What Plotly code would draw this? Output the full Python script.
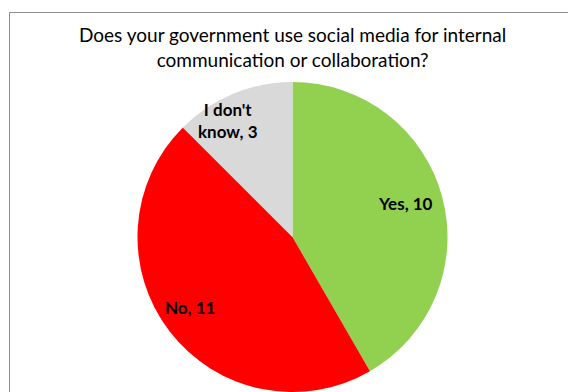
import math
import plotly.graph_objects as go

# Survey answers
labels = ["Yes", "No", "I don't know"]
values = [10, 11, 3]
label_text = ["Yes, 10", "No, 11", "I don't<br>know, 3"]
colors = ["#92D050", "#FF0000", "#D9D9D9"]

W, H = 568, 392
cx, cy, r = 292.5, 237.0, 155.0      # pie centre/radius in pixels (from top-left)
label_frac = [0.76, 0.80, 0.86]       # radial position of each label
label_shift = [-1.5, 3.0, -6.5]       # angular nudge of each label, degrees

fig = go.Figure(go.Pie(
    labels=labels,
    values=values,
    marker=dict(colors=colors, line=dict(width=0)),
    sort=False,
    direction="clockwise",
    rotation=0,
    textinfo="none",
    hoverinfo="label+value",
    showlegend=False,
    domain=dict(x=[(cx - r) / W, (cx + r) / W], y=[(H - cy - r) / H, (H - cy + r) / H]),
))

# Data labels placed along each slice's bisector
total = sum(values)
start = 0.0
annotations = []
for v, t, f, s in zip(values, label_text, label_frac, label_shift):
    mid = (start + v / 2) / total * 2 * math.pi + math.radians(s)
    start += v
    px = cx + f * r * math.sin(mid)
    py = cy - f * r * math.cos(mid)
    annotations.append(dict(
        x=px / W, y=1 - py / H, xref="paper", yref="paper",
        text="<b>" + t + "</b>", showarrow=False,
        font=dict(family="Lato", size=17, color="#000000"),
        xanchor="center", yanchor="middle", align="center",
    ))

annotations.append(dict(
    x=292.5 / W, y=1 - 47 / H, xref="paper", yref="paper",
    text="Does your government use social media for internal<br>communication or collaboration?",
    showarrow=False, xanchor="center", yanchor="middle", align="center",
    font=dict(family="Lato", size=19, color="#000000"),
))

fig.update_layout(
    width=W, height=H,
    margin=dict(l=0, r=0, t=0, b=0),
    paper_bgcolor="#FFFFFF",
    plot_bgcolor="#FFFFFF",
    annotations=annotations,
    shapes=[dict(
        type="rect", xref="paper", yref="paper",
        x0=9.5 / W, x1=1.05, y0=-0.05, y1=1 - 12.5 / H,
        line=dict(color="#8C8C8C", width=1), layer="below",
    )],
)

fig.write_html("out.html")
